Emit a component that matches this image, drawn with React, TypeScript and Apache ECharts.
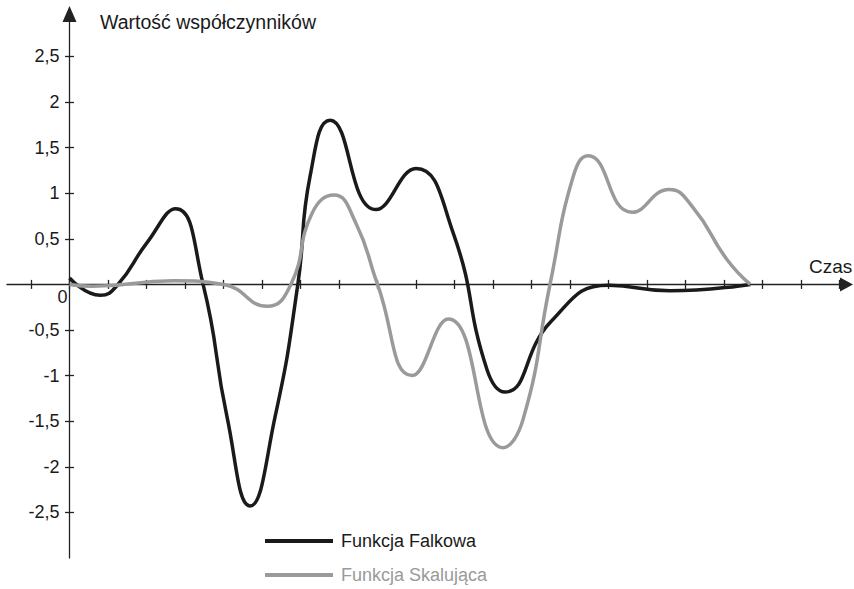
import React, { useEffect, useRef } from "react";
import * as echarts from "echarts";

// Black curve: Funkcja Falkowa (at extrema, crossings and bends)
const blackX = [0, 0.8, 1.26, 2.0, 2.76, 3.47, 4.09, 4.69, 5.34, 5.93, 6.25, 6.77, 7.96, 9.0, 9.96, 10.84, 11.31, 12.5, 14.0, 15.6, 17.68];
const blackY = [0.07, -0.12, 0, 0.45, 0.83, 0, -1.45, -2.43, -1.45, 0, 1.19, 1.8, 0.82, 1.27, 0.57, -0.93, -1.18, -0.41, -0.01, -0.07, 0];

// Gray curve: Funkcja Skalująca
const grayX = [0, 0.6, 2.7, 4.0, 5.13, 5.75, 6.3, 6.87, 7.45, 8.0, 8.9, 9.84, 11.26, 11.78, 12.48, 13.08, 13.47, 14.61, 15.57, 16.2, 17.08, 17.68];
const grayY = [0, -0.02, 0.04, 0, -0.24, 0, 0.78, 0.98, 0.66, 0, -1.0, -0.38, -1.79, -1.48, 0, 1.18, 1.41, 0.79, 1.04, 0.84, 0.27, 0];

const seriesNames = ["Funkcja Falkowa", "Funkcja Skalująca"];
const xTicks = [-1, 0, 1, 2, 3, 4, 5, 6, 7, 8, 9, 10, 11, 12, 13, 14, 15, 16, 17, 18, 19, 20];
const yTicks = [-2.5, -2, -1.5, -1, -0.5, 0.5, 1, 1.5, 2, 2.5];
const originLabel = [0];
const yTitle = "Wartość współczynników";
const xTitle = "Czas";

const FONT = "'Liberation Sans', Arial, Helvetica, sans-serif";
const AXIS_COLOR = "#222";
const BLACK = "#1a1a1a";
const GRAY = "#9a9a9a";

const zip = (xs: number[], ys: number[]) => xs.map((x, i) => [x, ys[i]]);

export default function App() {
  const ref = useRef<HTMLDivElement>(null);
  useEffect(() => {
    if (!ref.current) return;
    const chart = echarts.init(ref.current, null, { renderer: "svg" });
    const W = 854;
    const H = 589;
    const gLeft = 7;
    const gRight = 7.5;
    const gTop = 14;
    const gBottom = 31;
    const xMin = -1.623;
    const xMax = 20.18;
    const yMin = -3;
    const yMax = 2.965;
    const gW = W - gLeft - gRight;
    const gH = H - gTop - gBottom;
    // shift axes so that they cross at the origin
    const yAxisOffset = -((0 - xMin) / (xMax - xMin)) * gW;
    const xAxisOffset = -((0 - yMin) / (yMax - yMin)) * gH;
    const tickStyle = { color: AXIS_COLOR, width: 1.3 };
    const baseX = {
      type: "value",
      min: xMin,
      max: xMax,
      position: "bottom",
      offset: xAxisOffset,
      splitLine: { show: false },
    };
    const baseY = {
      type: "value",
      min: yMin,
      max: yMax,
      position: "left",
      offset: yAxisOffset,
      splitLine: { show: false },
    };
    chart.setOption({
      animation: false,
      textStyle: { fontFamily: FONT },
      title: [
        {
          text: yTitle,
          left: 95,
          top: 7,
          textStyle: { fontFamily: FONT, fontSize: 19.5, fontWeight: "normal", color: BLACK },
        },
        {
          text: xTitle,
          left: 804,
          top: 252,
          textStyle: { fontFamily: FONT, fontSize: 19, fontWeight: "normal", color: BLACK },
        },
      ],
      grid: { left: gLeft, right: gRight, top: gTop, bottom: gBottom, containLabel: false, outerBoundsMode: "none" },
      legend: {
        orient: "vertical",
        left: 260,
        top: 527,
        itemWidth: 68,
        itemHeight: 4,
        itemGap: 16,
        icon: "rect",
        selectedMode: false,
        data: seriesNames,
        formatter: (name: string) => (name === seriesNames[0] ? `{b|${name}}` : `{g|${name}}`),
        textStyle: {
          fontFamily: FONT,
          fontSize: 18,
          rich: {
            b: { color: BLACK, fontSize: 18, fontFamily: FONT, lineHeight: 22, padding: [0, 0, 0, 3] },
            g: { color: GRAY, fontSize: 18, fontFamily: FONT, lineHeight: 22, padding: [0, 0, 0, 3] },
          },
        },
      },
      xAxis: [
        {
          ...baseX,
          axisLine: {
            show: true,
            onZero: false,
            symbol: ["none", "triangle"],
            symbolSize: [14, 13],
            lineStyle: { color: AXIS_COLOR, width: 1.3 },
          },
          axisTick: { show: true, inside: false, length: 4.5, customValues: xTicks, lineStyle: tickStyle },
          axisLabel: {
            show: true,
            customValues: originLabel,
            formatter: (v: number) => String(v),
            align: "right",
            margin: 4,
            padding: [0, 2, 0, 0],
            fontSize: 18,
            fontFamily: FONT,
            color: BLACK,
          },
        },
        {
          ...baseX,
          axisLine: { show: false, onZero: false },
          axisTick: { show: true, inside: true, length: 4.5, customValues: xTicks, lineStyle: tickStyle },
          axisLabel: { show: false },
        },
      ],
      yAxis: [
        {
          ...baseY,
          axisLine: {
            show: true,
            onZero: false,
            symbol: ["none", "triangle"],
            symbolSize: [14, 16],
            lineStyle: { color: AXIS_COLOR, width: 1.3 },
          },
          axisTick: { show: true, inside: false, length: 4.5, customValues: yTicks, lineStyle: tickStyle },
          axisLabel: {
            show: true,
            customValues: yTicks,
            margin: 10,
            fontSize: 18,
            fontFamily: FONT,
            color: BLACK,
            formatter: (v: number) => String(v).replace(".", ","),
          },
        },
        {
          ...baseY,
          axisLine: { show: false, onZero: false },
          axisTick: { show: true, inside: true, length: 4.5, customValues: yTicks, lineStyle: tickStyle },
          axisLabel: { show: false },
        },
      ],
      series: [
        {
          name: seriesNames[0],
          type: "line",
          xAxisIndex: 0,
          yAxisIndex: 0,
          data: zip(blackX, blackY),
          smooth: 0.5,
          showSymbol: false,
          color: BLACK,
          lineStyle: { color: BLACK, width: 3.5 },
          z: 3,
        },
        {
          name: seriesNames[1],
          type: "line",
          xAxisIndex: 0,
          yAxisIndex: 0,
          data: zip(grayX, grayY),
          smooth: 0.5,
          showSymbol: false,
          color: GRAY,
          lineStyle: { color: GRAY, width: 3.5 },
          z: 4,
        },
      ],
    });
    return () => chart.dispose();
  }, []);
  return <div ref={ref} style={{ width: 854, height: 589, position: "absolute", left: 0, top: 0 }} />;
}
